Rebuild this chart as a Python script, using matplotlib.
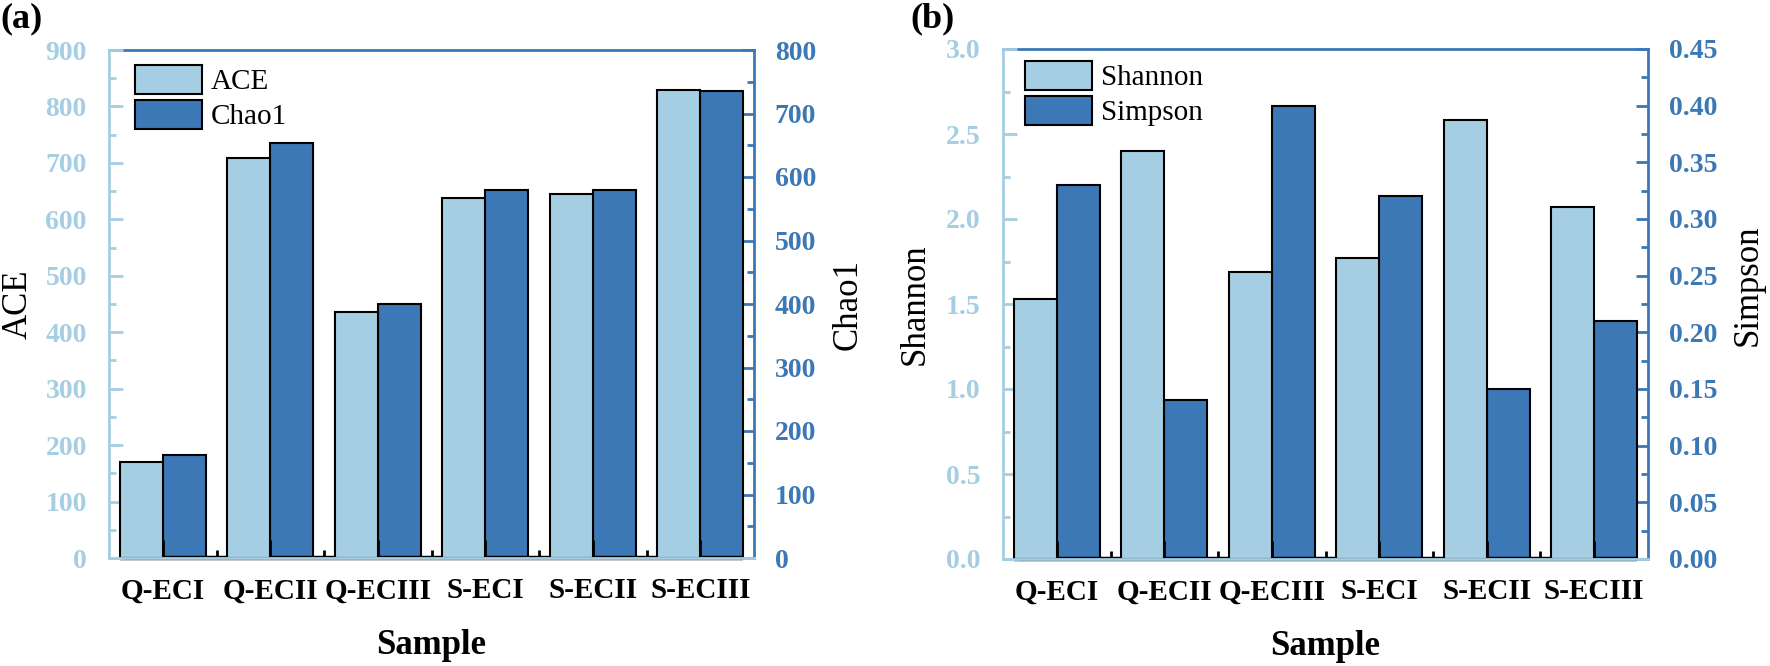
import matplotlib
matplotlib.use("Agg")
import matplotlib.pyplot as plt
import numpy as np
from matplotlib.ticker import MultipleLocator, FixedLocator

# ---------------- data ----------------
samples = ["Q-ECI", "Q-ECII", "Q-ECIII", "S-ECI", "S-ECII", "S-ECIII"]
ace = [170, 709, 436, 637, 645, 830]
chao1 = [162, 654, 400, 579, 580, 736]
shannon = [1.53, 2.40, 1.69, 1.77, 2.58, 2.07]
simpson = [0.330, 0.140, 0.400, 0.320, 0.150, 0.210]

light = "#a6cee3"
dark = "#3c78b5"

plt.rcParams["font.family"] = ["Liberation Serif", "DejaVu Serif"]

fig = plt.figure(figsize=(17.7, 6.66), dpi=100)
W, H = 1770, 666


def make_panel(left_px, right_px, top_px, bot_px, v1, v2, lab1, lab2,
               ylim1, step1, ylim2, step2, fmt1, fmt2, leg_off, lab2_coords,
               lab1_x):
    ax = fig.add_axes([left_px / W, 1 - bot_px / H,
                       (right_px - left_px) / W, (bot_px - top_px) / H])
    ax2 = ax.twinx()
    x = np.arange(len(samples))
    w = 0.4
    b1 = ax.bar(x - w / 2, v1, width=w, color=light, edgecolor="black",
                linewidth=1.5, label=lab1, zorder=2)
    b2 = ax2.bar(x + w / 2, v2, width=w, color=dark, edgecolor="black",
                 linewidth=1.5, label=lab2, zorder=2)
    ax.set_xlim(-0.5, len(samples) - 0.5)
    ax.set_ylim(*ylim1)
    ax2.set_ylim(*ylim2)

    # spines
    for s in ax.spines.values():
        s.set_linewidth(2)
    for s in ax2.spines.values():
        s.set_linewidth(2)
    ax.spines["left"].set_color(light)
    ax.spines["bottom"].set_color(light)
    ax2.spines["left"].set_visible(False)
    ax2.spines["bottom"].set_visible(False)
    ax2.spines["right"].set_color(dark)
    ax2.spines["top"].set_color(dark)
    ax.spines["top"].set_visible(False)
    ax.spines["right"].set_visible(False)

    # left axis ticks
    ax.yaxis.set_major_locator(MultipleLocator(step1))
    ax.yaxis.set_minor_locator(MultipleLocator(step1 / 2))
    ax.tick_params(axis="y", which="major", direction="in", length=10,
                   width=2, color=light, labelcolor=light, labelsize=20,
                   pad=16)
    ax.tick_params(axis="y", which="minor", direction="in", length=5,
                   width=2, color=light)
    ax.yaxis.set_major_formatter(plt.FuncFormatter(lambda v, p: fmt1.format(v)))
    for t in ax.get_yticklabels():
        t.set_fontweight("bold")

    # right axis ticks
    ax2.yaxis.set_major_locator(MultipleLocator(step2))
    ax2.yaxis.set_minor_locator(MultipleLocator(step2 / 2))
    ax2.tick_params(axis="y", which="major", direction="in", length=9,
                    width=2, color=dark, labelcolor=dark, labelsize=20,
                    pad=15)
    ax2.tick_params(axis="y", which="minor", direction="in", length=5,
                    width=2, color=dark)
    ax2.yaxis.set_major_formatter(plt.FuncFormatter(lambda v, p: fmt2.format(v)))
    for t in ax2.get_yticklabels():
        t.set_fontweight("bold")

    # x axis: black base line spanning bars, ticks at group centers
    ax.set_xticks(x)
    ax.set_xticklabels(samples, fontsize=21, fontweight="bold")
    ax.xaxis.set_minor_locator(FixedLocator(x[:-1] + 0.5))
    ax.tick_params(axis="x", which="major", direction="in", length=13,
                   width=2, color="black", pad=14)
    ax.tick_params(axis="x", which="minor", direction="in", length=6,
                   width=2, color="black")
    ax2.plot([x[0] - w, x[-1] + w], [0, 0], color="black", lw=3.2,
             solid_capstyle="butt", clip_on=False, zorder=5)

    ax.set_xlabel("Sample", fontsize=25, fontweight="bold", labelpad=18)
    ax.set_ylabel(lab1, fontsize=25)
    ax.yaxis.set_label_coords(lab1_x, 0.5)
    ax2.set_ylabel(lab2, fontsize=25)
    ax2.yaxis.set_label_coords(*lab2_coords)

    ax.set_zorder(ax2.get_zorder() + 1)
    ax.patch.set_visible(False)

    ax.legend([b1, b2], [lab1, lab2], loc="upper left",
              bbox_to_anchor=leg_off, frameon=False, fontsize=21,
              handlelength=2.3, handleheight=1.15, handletextpad=0.3,
              labelspacing=0.15, borderpad=0, borderaxespad=0)
    return ax, ax2


make_panel(109, 754, 50, 558, ace, chao1, "ACE", "Chao1",
           (0, 900), 100, (0, 800), 100, "{:.0f}", "{:.0f}",
           (26 / 645, 1 - 15 / 508), (1.121, 0.5), -0.115)
make_panel(1003, 1648, 49, 559, shannon, simpson, "Shannon", "Simpson",
           (0, 3.0), 0.5, (0, 0.45), 0.05, "{:.1f}", "{:.2f}",
           (22 / 645, 1 - 12 / 510), (1.130, 0.537), -0.111)

fig.text(0 / W, 1 - 2 / H, "(a)", fontsize=26, fontweight="bold",
         ha="left", va="top")
fig.text(910 / W, 1 - 2 / H, "(b)", fontsize=26, fontweight="bold",
         ha="left", va="top")

fig.savefig("out.png", dpi=100)
